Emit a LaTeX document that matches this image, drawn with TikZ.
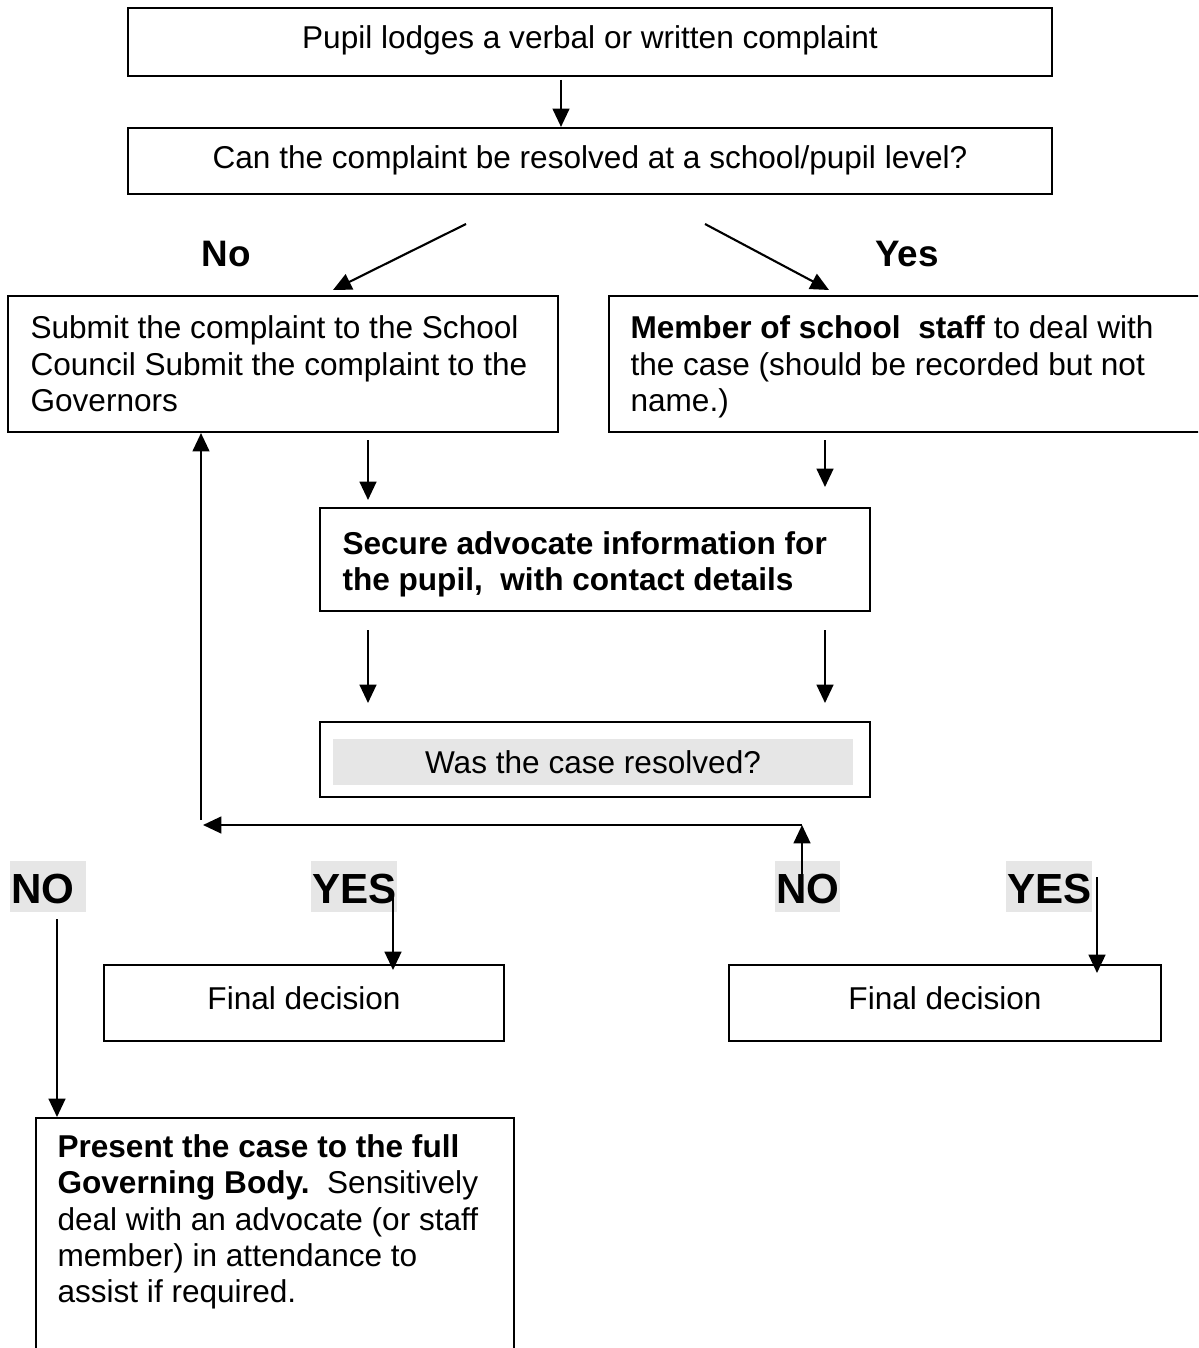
\documentclass[tikz,border=0pt]{standalone}
\usepackage{fontspec}
\setmainfont{Liberation Sans}
\usetikzlibrary{arrows.meta}
\definecolor{shade}{RGB}{230,230,230}
\newcommand\pxu{0.38pt}
\begin{document}
\begin{tikzpicture}[x=0.38pt,y=-0.38pt,
  frame/.style={draw, line width=0.8pt, inner sep=0pt, rectangle},
  arr/.style={line width=0.8pt, -{Triangle[length=7pt,width=6.4pt]}},
  txt/.style={font=\fontsize{12}{13.8}\selectfont, inner sep=0pt, align=left},
  tag/.style={font=\fontsize{14}{16}\selectfont\bfseries, inner sep=0pt},
  answer/.style={font=\fontsize{16}{18}\selectfont\bfseries, fill=shade,
    inner xsep=0.76pt, inner ysep=0pt, text height=15.96pt, text depth=3.42pt,
    align=left, anchor=base west}]
\useasboundingbox (0,0) rectangle (1198,1348);
\clip (0,0) rectangle (1198,1348);

% boxes
\node[frame, minimum width=924*\pxu, minimum height=68*\pxu] (b1) at (590,42) {};
\node[frame, minimum width=924*\pxu, minimum height=66*\pxu] (b2) at (590,161) {};
\node[frame, minimum width=550*\pxu, minimum height=136*\pxu] (b3) at (283,364) {};
\node[frame, minimum width=611*\pxu, minimum height=136*\pxu] (b4) at (914.5,364) {};
\node[frame, minimum width=550*\pxu, minimum height=103*\pxu] (b5) at (595,559.5) {};
\node[frame, minimum width=550*\pxu, minimum height=75*\pxu] (b6) at (595,759.5) {};
\node[frame, minimum width=400*\pxu, minimum height=76*\pxu] (b7) at (304,1003) {};
\node[frame, minimum width=432*\pxu, minimum height=76*\pxu] (b8) at (945,1003) {};
\node[frame, minimum width=478*\pxu, minimum height=300*\pxu, anchor=north west] (b9) at (35,1117) {};

% box texts
\node[txt] (t1) at (590,40) {Pupil lodges a verbal or written complaint};
\node[txt] (t2) at (590,160) {Can the complaint be resolved at a school/pupil level?};
\node[txt, anchor=west] (t3) at (30,364) {Submit the complaint to the School\\Council Submit the complaint to the\\Governors};
\node[txt, anchor=west] (t4) at (630,367) {\textbf{Member of school\ \ staff} to deal with\\the case (should be recorded but not\\name.)};
\node[txt, anchor=west, font=\fontsize{12}{13.8}\selectfont\bfseries] (t5) at (342,564) {Secure advocate information for\\the pupil,\ \ with contact details};
\node[txt, fill=shade, minimum width=520*\pxu, minimum height=46*\pxu] (t6) at (593,762) {Was the case resolved?};
\node[txt] (t7) at (304,998) {Final decision};
\node[txt] (t8) at (945,998) {Final decision};
\node[txt, anchor=north west] (t9) at (57,1134) {\textbf{Present the case to the full}\\\textbf{Governing Body.}\ \ Sensitively\\deal with an advocate (or staff\\member) in attendance to\\assist if required.};

% branch labels
\node[tag] (no1) at (226,254) {No};
\node[tag] (yes1) at (907,254) {Yes};
\node[answer, text width=27.36pt] (no2) at (9,903) {NO};
\node[answer, text width=31.16pt] (yes2) at (310,903) {YES};
\node[answer, text width=23.18pt] (no3) at (774,903) {NO};
\node[answer, text width=31.16pt] (yes3) at (1005,903) {YES};

% connector ends
\coordinate (a1s) at (561,80);
\coordinate (a1e) at (b2.north -| a1s);
\coordinate (dls) at (466,224);
\coordinate (dle) at (333,290);
\coordinate (drs) at (705,224);
\coordinate (dre) at (829,290);
\coordinate (l1s) at (368,440);
\coordinate (l1e) at (368,500);
\coordinate (r1s) at (825,440);
\coordinate (r1e) at (825,487);
\coordinate (l2s) at (368,630);
\coordinate (l2e) at (368,703);
\coordinate (r2s) at (825,630);
\coordinate (r2e) at (825,703);
\coordinate (up1s) at (802,900);
\coordinate (up1e) at (802,825);
\coordinate (hz) at (203,825);
\coordinate (up2s) at (201,820);
\coordinate (up2e) at (b3.south -| up2s);
\coordinate (nos) at (57,919);
\coordinate (noe) at (b9.north -| nos);
\coordinate (ys1) at (393,893);
\coordinate (ye1) at (393,970);
\coordinate (ys2) at (1097,877);
\coordinate (ye2) at (1097,973);

% connectors
\draw[arr] (a1s) -- (a1e);
\draw[arr] (dls) -- (dle);
\draw[arr] (drs) -- (dre);
\draw[arr] (l1s) -- (l1e);
\draw[arr] (r1s) -- (r1e);
\draw[arr] (l2s) -- (l2e);
\draw[arr] (r2s) -- (r2e);
\draw[arr] (up1s) -- (up1e);
\draw[arr] (up1e) -- (hz);
\draw[arr] (up2s) -- (up2e);
\draw[arr] (nos) -- (noe);
\draw[arr] (ys1) -- (ye1);
\draw[arr] (ys2) -- (ye2);
\end{tikzpicture}
\end{document}
